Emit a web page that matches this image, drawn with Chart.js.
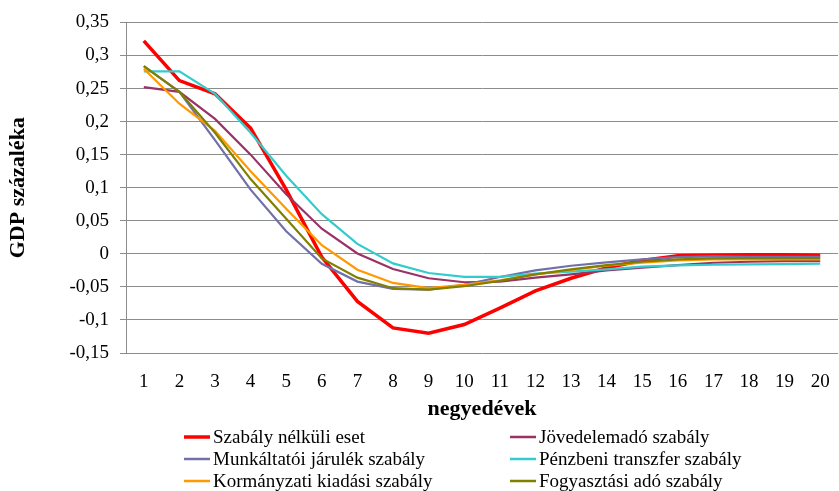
<!DOCTYPE html>
<html>
<head>
<meta charset="utf-8">
<script src="https://cdn.jsdelivr.net/npm/chart.js@4"></script>
<style>
html,body{margin:0;padding:0;background:#fff;}
#wrap{width:839px;height:491px;position:relative;}
</style>
</head>
<body>
<div id="wrap"><canvas id="c" width="839" height="491"></canvas></div>
<script>
const categories = ['1','2','3','4','5','6','7','8','9','10','11','12','13','14','15','16','17','18','19','20'];
const yTicks = [-0.15,-0.1,-0.05,0,0.05,0.1,0.15,0.2,0.25,0.3,0.35];

const seriesNames = ['Szabály nélküli eset','Jövedelemadó szabály','Munkáltatói járulék szabály','Pénzbeni transzfer szabály','Kormányzati kiadási szabály','Fogyasztási adó szabály'];

const szabalyNelkuli = [0.322,0.262,0.242,0.19,0.097,-0.005,-0.072,-0.112,-0.120,-0.107,-0.082,-0.056,-0.037,-0.021,-0.010,-0.003,-0.002,-0.0015,-0.0015,-0.002];
const jovedelemado = [0.252,0.245,0.204,0.150,0.090,0.038,0.0005,-0.023,-0.037,-0.043,-0.042,-0.036,-0.031,-0.025,-0.021,-0.017,-0.0135,-0.012,-0.011,-0.011];
const munkaltatoi = [0.284,0.245,0.172,0.097,0.034,-0.015,-0.042,-0.053,-0.054,-0.047,-0.035,-0.025,-0.018,-0.013,-0.0085,-0.005,-0.004,-0.0045,-0.0045,-0.0045];
const penzbeni = [0.276,0.276,0.242,0.183,0.118,0.06,0.015,-0.0145,-0.029,-0.035,-0.035,-0.030,-0.027,-0.0235,-0.0195,-0.0175,-0.0165,-0.016,-0.0155,-0.015];
const kormanyzati = [0.28,0.227,0.186,0.125,0.068,0.013,-0.024,-0.044,-0.052,-0.047,-0.040,-0.031,-0.0245,-0.018,-0.0135,-0.010,-0.0085,-0.0085,-0.0085,-0.0085];
const fogyasztasi = [0.284,0.245,0.183,0.113,0.053,-0.007,-0.036,-0.052,-0.054,-0.049,-0.041,-0.031,-0.0235,-0.017,-0.012,-0.0085,-0.007,-0.0065,-0.0065,-0.0065];

const colors = ['#FF0000','#993366','#7070AA','#33CCCC','#FF9900','#808000'];
const widths = [3.5,2.2,2.2,2.2,2.2,2.2];
const allSeries = [szabalyNelkuli,jovedelemado,munkaltatoi,penzbeni,kormanyzati,fogyasztasi];

const FONT = "'Liberation Serif','Times New Roman',serif";

const legendPlugin = {
  id: 'customLegend',
  afterDraw(chart) {
    const ctx = chart.ctx;
    ctx.save();
    ctx.font = '19px ' + FONT;
    ctx.textBaseline = 'middle';
    ctx.fillStyle = '#000';
    const colX = [[184,210,213],[510,536,539]];
    const rowY = [437,459,481];
    chart.data.datasets.forEach((ds, i) => {
      const c = colX[i % 2];
      const y = rowY[Math.floor(i / 2)];
      ctx.strokeStyle = ds.borderColor;
      ctx.lineWidth = i === 0 ? 3.5 : 2.5;
      ctx.beginPath();
      ctx.moveTo(c[0], y);
      ctx.lineTo(c[1], y);
      ctx.stroke();
      ctx.fillText(ds.label, c[2], y + 1);
    });
    ctx.restore();
  }
};

new Chart(document.getElementById('c'), {
  type: 'line',
  data: {
    labels: categories,
    datasets: allSeries.map((d, i) => ({
      label: seriesNames[i],
      data: d,
      borderColor: colors[i],
      backgroundColor: colors[i],
      borderWidth: widths[i],
      pointRadius: 0,
      tension: 0,
      fill: false,
      order: 6 - i
    }))
  },
  options: {
    responsive: false,
    animation: false,
    layout: { padding: { left: 0, right: 1, top: 13, bottom: 68 } },
    plugins: { legend: { display: false }, tooltip: { enabled: false } },
    scales: {
      x: {
        offset: true,
        grid: { display: true, drawOnChartArea: false, drawTicks: true, tickLength: 18, color: 'rgba(0,0,0,0)' },
        border: { display: false },
        ticks: { color: '#000', font: { family: FONT, size: 19 }, padding: 0, maxRotation: 0, autoSkip: false },
        title: { display: true, text: 'negyedévek', color: '#000', font: { family: FONT, size: 22, weight: 'bold' }, padding: { top: 0, bottom: 0 } },
        afterFit(scale) { scale.height = 70; }
      },
      y: {
        min: -0.15,
        max: 0.35,
        afterBuildTicks(scale) { scale.ticks = yTicks.map(v => ({ value: v })); },
        grid: { color: '#8c8c8c', lineWidth: 1, tickLength: 6, drawTicks: true },
        border: { display: true, color: '#8c8c8c', width: 1 },
        ticks: {
          color: '#000', font: { family: FONT, size: 19 }, padding: 11,
          callback: (v) => { const r = Math.round(v * 100) / 100; return (r === 0 ? '0' : String(r)).replace('.', ','); }
        },
        title: { display: true, text: 'GDP százaléka', color: '#000', font: { family: FONT, size: 22, weight: 'bold' }, padding: { top: 5, bottom: 0 } },
        afterFit(scale) { scale.width = 126; }
      }
    }
  },
  plugins: [legendPlugin]
});
</script>
</body>
</html>
